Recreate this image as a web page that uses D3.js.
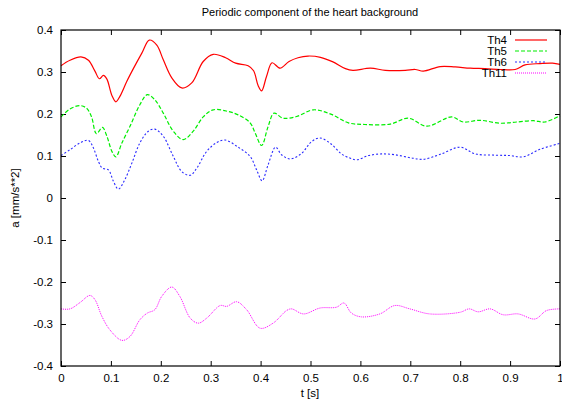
<!DOCTYPE html>
<html lang="en">
<head>
  <meta charset="UTF-8">
  <title>Periodic component of the heart background</title>
  <script src="https://d3js.org/d3.v7.min.js"></script>
  <style>
    body { margin: 0; background: #fff; }
    text { font-family: "Liberation Sans", Arial, sans-serif; fill: #000; }
  </style>
</head>
<body>
  <div id="chart"></div>
  <script>
// series values as [t, a] pairs
const th4 = [[0,0.315],[0.018,0.328],[0.04,0.336],[0.055,0.328],[0.068,0.302],[0.077,0.284],[0.085,0.292],[0.092,0.283],[0.102,0.244],[0.11,0.229],[0.118,0.242],[0.132,0.278],[0.145,0.308],[0.162,0.345],[0.177,0.376],[0.192,0.364],[0.205,0.329],[0.222,0.286],[0.242,0.262],[0.262,0.274],[0.285,0.325],[0.305,0.342],[0.33,0.334],[0.35,0.321],[0.375,0.315],[0.386,0.303],[0.395,0.268],[0.402,0.255],[0.412,0.29],[0.423,0.322],[0.439,0.309],[0.457,0.325],[0.475,0.334],[0.495,0.338],[0.52,0.335],[0.545,0.324],[0.57,0.308],[0.585,0.304],[0.62,0.309],[0.65,0.304],[0.69,0.304],[0.71,0.306],[0.726,0.302],[0.76,0.313],[0.79,0.312],[0.82,0.309],[0.85,0.308],[0.88,0.306],[0.91,0.306],[0.93,0.317],[0.96,0.32],[0.985,0.321],[1,0.318]];

const th5 = [[0,0.193],[0.018,0.212],[0.038,0.22],[0.051,0.214],[0.061,0.194],[0.071,0.153],[0.083,0.168],[0.092,0.147],[0.102,0.111],[0.11,0.098],[0.122,0.131],[0.138,0.17],[0.158,0.222],[0.173,0.246],[0.188,0.234],[0.205,0.202],[0.225,0.159],[0.245,0.139],[0.265,0.159],[0.285,0.193],[0.305,0.21],[0.335,0.206],[0.355,0.198],[0.379,0.179],[0.389,0.155],[0.402,0.125],[0.415,0.17],[0.427,0.202],[0.445,0.19],[0.472,0.194],[0.506,0.21],[0.542,0.199],[0.576,0.179],[0.609,0.175],[0.66,0.176],[0.696,0.19],[0.733,0.171],[0.783,0.193],[0.806,0.181],[0.84,0.185],[0.88,0.178],[0.913,0.181],[0.947,0.184],[0.97,0.181],[1,0.196]];

const th6 = [[0,0.101],[0.018,0.115],[0.038,0.131],[0.055,0.137],[0.065,0.119],[0.075,0.087],[0.083,0.071],[0.095,0.067],[0.105,0.04],[0.115,0.021],[0.128,0.044],[0.142,0.083],[0.158,0.131],[0.175,0.159],[0.188,0.164],[0.205,0.147],[0.225,0.099],[0.242,0.063],[0.259,0.054],[0.272,0.071],[0.292,0.111],[0.312,0.132],[0.329,0.138],[0.355,0.121],[0.379,0.099],[0.392,0.067],[0.403,0.041],[0.415,0.079],[0.43,0.121],[0.442,0.103],[0.459,0.093],[0.482,0.106],[0.502,0.134],[0.519,0.143],[0.542,0.128],[0.562,0.105],[0.579,0.095],[0.593,0.091],[0.616,0.101],[0.643,0.105],[0.669,0.103],[0.7,0.096],[0.726,0.092],[0.76,0.104],[0.8,0.121],[0.83,0.105],[0.87,0.102],[0.9,0.101],[0.926,0.098],[0.96,0.116],[1,0.13]];

const th11 = [[0,-0.264],[0.018,-0.264],[0.038,-0.249],[0.058,-0.232],[0.068,-0.242],[0.082,-0.282],[0.098,-0.314],[0.122,-0.339],[0.138,-0.33],[0.158,-0.29],[0.173,-0.274],[0.188,-0.266],[0.202,-0.234],[0.222,-0.212],[0.238,-0.234],[0.259,-0.286],[0.275,-0.298],[0.292,-0.286],[0.319,-0.256],[0.332,-0.258],[0.352,-0.247],[0.372,-0.266],[0.399,-0.31],[0.425,-0.298],[0.452,-0.268],[0.462,-0.264],[0.486,-0.276],[0.519,-0.262],[0.552,-0.26],[0.567,-0.25],[0.582,-0.274],[0.602,-0.283],[0.639,-0.276],[0.669,-0.256],[0.699,-0.264],[0.739,-0.276],[0.8,-0.272],[0.818,-0.264],[0.836,-0.271],[0.86,-0.264],[0.886,-0.278],[0.916,-0.276],[0.95,-0.288],[0.973,-0.268],[1,-0.264]];

const seriesNames = ["Th4", "Th5", "Th6", "Th11"];
const xTicks = [0, 0.1, 0.2, 0.3, 0.4, 0.5, 0.6, 0.7, 0.8, 0.9, 1];
const yTicks = [-0.4, -0.3, -0.2, -0.1, 0, 0.1, 0.2, 0.3, 0.4];

const w = 562;
const h = 403;
const margin = {top: 30, right: 2, bottom: 37, left: 61};
const gw = w - margin.left - margin.right;
const gh = h - margin.top - margin.bottom;

const styles = [
  {color: "#ff0000", dash: null, width: 1.2},
  {color: "#00ee00", dash: "4,2", width: 1.2},
  {color: "#2a2aff", dash: "2,2", width: 1.1},
  {color: "#ff00ff", dash: "1,1", width: 1}
];

const svg = d3.select("#chart").append("svg")
  .attr("width", w)
  .attr("height", h);

const graph = svg.append("g")
  .attr("transform", `translate(${margin.left},${margin.top})`);

const x = d3.scaleLinear().domain([0, 1]).range([0, gw]);
const y = d3.scaleLinear().domain([-0.4, 0.4]).range([gh, 0]);

const fmt = d => String(+d.toFixed(1));

// axes with inward ticks, mirrored on top and right
const xAxis = d3.axisBottom(x).tickValues(xTicks).tickFormat(fmt).tickSizeInner(-5).tickSizeOuter(0).tickPadding(8);
const yAxis = d3.axisLeft(y).tickValues(yTicks).tickFormat(fmt).tickSizeInner(-5).tickSizeOuter(0).tickPadding(8);
const xTop = d3.axisTop(x).tickValues(xTicks).tickFormat("").tickSizeInner(-5).tickSizeOuter(0);
const yRight = d3.axisRight(y).tickValues(yTicks).tickFormat("").tickSizeInner(-5).tickSizeOuter(0);

const axes = [
  graph.append("g").attr("transform", `translate(0,${gh})`).call(xAxis),
  graph.append("g").call(yAxis),
  graph.append("g").call(xTop),
  graph.append("g").attr("transform", `translate(${gw},0)`).call(yRight)
];
axes.forEach(a => {
  a.select(".domain").remove();
  a.selectAll("line").attr("stroke", "#000");
  a.selectAll("text").style("font-size", "11.5px").style("font-family", "'Liberation Sans', Arial, sans-serif");
});

// series
const line = d3.line()
  .x(d => x(d[0]))
  .y(d => y(d[1]))
  .curve(d3.curveCatmullRom.alpha(0.5));

[th4, th5, th6, th11].forEach((s, i) => {
  graph.append("path")
    .datum(s)
    .attr("fill", "none")
    .attr("stroke", styles[i].color)
    .attr("stroke-width", styles[i].width)
    .attr("stroke-dasharray", styles[i].dash)
    .attr("d", line);
});

// border
graph.append("rect")
  .attr("width", gw)
  .attr("height", gh)
  .attr("fill", "none")
  .attr("stroke", "#000")
  .attr("stroke-width", 1.2);

// legend
const legend = graph.append("g");
seriesNames.forEach((name, i) => {
  const ly = 10 + i * 11;
  legend.append("text")
    .attr("x", 446)
    .attr("y", ly)
    .attr("dy", "0.35em")
    .attr("text-anchor", "end")
    .style("font-size", "11.5px")
    .text(name);
  legend.append("line")
    .attr("x1", 454)
    .attr("x2", 486)
    .attr("y1", ly)
    .attr("y2", ly)
    .attr("stroke", styles[i].color)
    .attr("stroke-width", styles[i].width)
    .attr("stroke-dasharray", styles[i].dash);
});

// title and axis labels
svg.append("text")
  .attr("x", 310)
  .attr("y", 16)
  .attr("text-anchor", "middle")
  .style("font-size", "11px")
  .text("Periodic component of the heart background");

svg.append("text")
  .attr("x", 310)
  .attr("y", 397)
  .attr("text-anchor", "middle")
  .style("font-size", "11.5px")
  .text("t [s]");

svg.append("text")
  .attr("transform", `translate(19,${margin.top + gh / 2}) rotate(-90)`)
  .attr("text-anchor", "middle")
  .style("font-size", "11.5px")
  .text("a [mm/s**2]");
  </script>
</body>
</html>
